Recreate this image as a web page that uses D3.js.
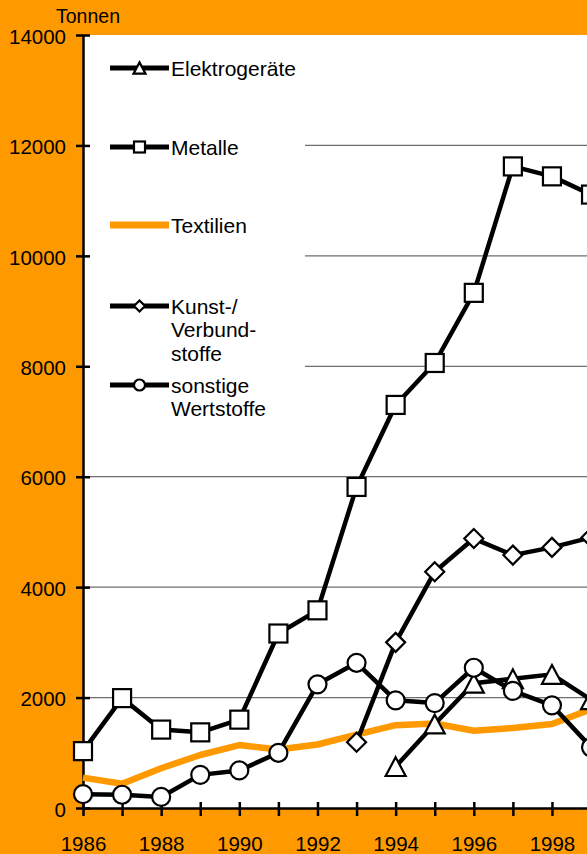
<!DOCTYPE html>
<html>
<head>
<meta charset="utf-8">
<script src="https://cdn.jsdelivr.net/npm/d3@7"></script>
<style>
  html, body { margin: 0; padding: 0; background: #FF9900; }
  svg { display: block; }
  text { font-family: "Liberation Sans", Arial, sans-serif; fill: #000; }
</style>
</head>
<body>
<svg id="chart" width="587" height="854"></svg>
<script>
// ---- data ----
const years = [1986, 1987, 1988, 1989, 1990, 1991, 1992, 1993, 1994, 1995, 1996, 1997, 1998, 1999];
const elektrogeraete = [null, null, null, null, null, null, null, null, 750, 1520, 2260, 2340, 2420, 1960];
const metalle = [1030, 1990, 1420, 1370, 1600, 3160, 3580, 5815, 7300, 8060, 9330, 11620, 11440, 11110];
const textilien = [550, 440, 720, 960, 1140, 1060, 1150, 1330, 1500, 1530, 1400, 1450, 1520, 1790];
const kunstVerbund = [null, null, null, null, null, null, null, 1190, 3000, 4280, 4880, 4580, 4720, 4900];
const sonstige = [250, 240, 200, 600, 680, 1000, 2240, 2630, 1950, 1900, 2540, 2120, 1860, 1100];
const yTicks = [0, 2000, 4000, 6000, 8000, 10000, 12000, 14000];
const xTickLabels = [1986, 1988, 1990, 1992, 1994, 1996, 1998];
const legendNames = [["Elektrogeräte"], ["Metalle"], ["Textilien"], ["Kunst-/", "Verbund-", "stoffe"], ["sonstige", "Wertstoffe"]];
const yAxisTitle = "Tonnen";

// ---- layout ----
const svg = d3.select("#chart");
const plotLeft = 83, plotTop = 35, plotBottom = 808;
const x = d3.scaleLinear().domain([1986, 2000]).range([plotLeft, plotLeft + 14 * 39.08]);
const y = d3.scaleLinear().domain([0, 14000]).range([plotBottom, plotTop]);
const plotRight = x(2000);
const orange = "#FF9900";

svg.append("rect").attr("x", plotLeft).attr("y", plotTop).attr("width", plotRight - plotLeft).attr("height", plotBottom - plotTop).attr("fill", "#fff");

svg.append("g").selectAll("line").data(yTicks.filter(d => d > 0 && d < 14000)).join("line")
  .attr("x1", plotLeft).attr("x2", plotRight).attr("y1", d => y(d)).attr("y2", d => y(d))
  .attr("stroke", "#6e6e6e").attr("stroke-width", 1.2);

// white legend box covering gridlines
svg.append("rect").attr("x", plotLeft).attr("y", plotTop).attr("width", 305 - plotLeft).attr("height", 440 - plotTop).attr("fill", "#fff");

const yAxis = d3.axisLeft(y).tickValues(yTicks).tickSize(7).tickSizeOuter(0).tickFormat(d3.format("d"));
const gy = svg.append("g").attr("transform", `translate(${plotLeft},0)`).call(yAxis)
  .attr("font-family", null).attr("font-size", null);
gy.select(".domain").attr("stroke", "#000").attr("stroke-width", 2.5);
gy.selectAll(".tick line").attr("stroke", "#000").attr("stroke-width", 2.5).attr("x2", 7).attr("x1", -7);
gy.selectAll(".tick text").attr("x", -17).attr("dy", "0.4em").style("font-size", "20.5px");

const xAxis = d3.axisBottom(x).tickValues(d3.range(1986, 2001)).tickSize(8).tickSizeOuter(0)
  .tickFormat(d => xTickLabels.includes(d) ? d : "");
const gx = svg.append("g").attr("transform", `translate(0,${plotBottom})`).call(xAxis)
  .attr("font-family", null).attr("font-size", null);
gx.select(".domain").attr("stroke", "#000").attr("stroke-width", 2.5);
gx.selectAll(".tick line").attr("stroke", "#000").attr("stroke-width", 2.5).attr("y1", -6).attr("y2", 8);
gx.selectAll(".tick text").attr("y", 28).attr("dy", "0.71em").style("font-size", "20.5px");

svg.append("text").attr("x", 56).attr("y", 23).style("font-size", "19.5px").text(yAxisTitle);

const line = d3.line().defined(d => d[1] != null).x(d => x(d[0])).y(d => y(d[1]));
const pts = arr => years.map((yr, i) => [yr, arr[i]]);

function marker(g, type, cx, cy, s) {
  const common = el => el.attr("fill", "#fff").attr("stroke", "#000").attr("stroke-width", 2.2);
  if (type === "square") common(g.append("rect").attr("x", cx - s / 2).attr("y", cy - s / 2).attr("width", s).attr("height", s));
  else if (type === "circle") common(g.append("circle").attr("cx", cx).attr("cy", cy).attr("r", s / 2));
  else if (type === "diamond") common(g.append("path").attr("d", `M${cx},${cy - s / 2}L${cx + s / 2},${cy}L${cx},${cy + s / 2}L${cx - s / 2},${cy}Z`));
  else if (type === "triangle") common(g.append("path").attr("d", `M${cx},${cy - s * 0.47}L${cx + s / 2},${cy + s * 0.47}L${cx - s / 2},${cy + s * 0.47}Z`));
}

// Textilien underneath
svg.append("path").datum(pts(textilien)).attr("d", line).attr("fill", "none").attr("stroke", orange).attr("stroke-width", 6.5).attr("stroke-linejoin", "round");

const blackSeries = [
  { data: elektrogeraete, type: "triangle", size: 20 },
  { data: metalle, type: "square", size: 18 },
  { data: kunstVerbund, type: "diamond", size: 19 },
  { data: sonstige, type: "circle", size: 18 }
];
blackSeries.forEach(s => {
  const g = svg.append("g");
  g.append("path").datum(pts(s.data)).attr("d", line).attr("fill", "none").attr("stroke", "#000").attr("stroke-width", 4.5).attr("stroke-linejoin", "round");
  pts(s.data).filter(d => d[1] != null).forEach(d => marker(g, s.type, x(d[0]), y(d[1]), s.size));
});

// legend
const legendY = [68, 147, 225, 306, 385];
const legendTypes = ["triangle", "square", null, "diamond", "circle"];
legendNames.forEach((lines, i) => {
  const g = svg.append("g");
  const ly = legendY[i];
  if (legendTypes[i] === null) {
    g.append("line").attr("x1", 110).attr("x2", 169).attr("y1", ly).attr("y2", ly).attr("stroke", orange).attr("stroke-width", 7);
  } else {
    g.append("line").attr("x1", 110).attr("x2", 169).attr("y1", ly).attr("y2", ly).attr("stroke", "#000").attr("stroke-width", 5);
    marker(g, legendTypes[i], 139.5, ly, legendTypes[i] === "triangle" ? 12 : 11);
  }
  const t = g.append("text").attr("x", 171).attr("y", ly + 7.5).style("font-size", "21px");
  lines.forEach((l, j) => t.append("tspan").attr("x", 171).attr("dy", j === 0 ? 0 : 23.6).text(l));
});
</script>
</body>
</html>
